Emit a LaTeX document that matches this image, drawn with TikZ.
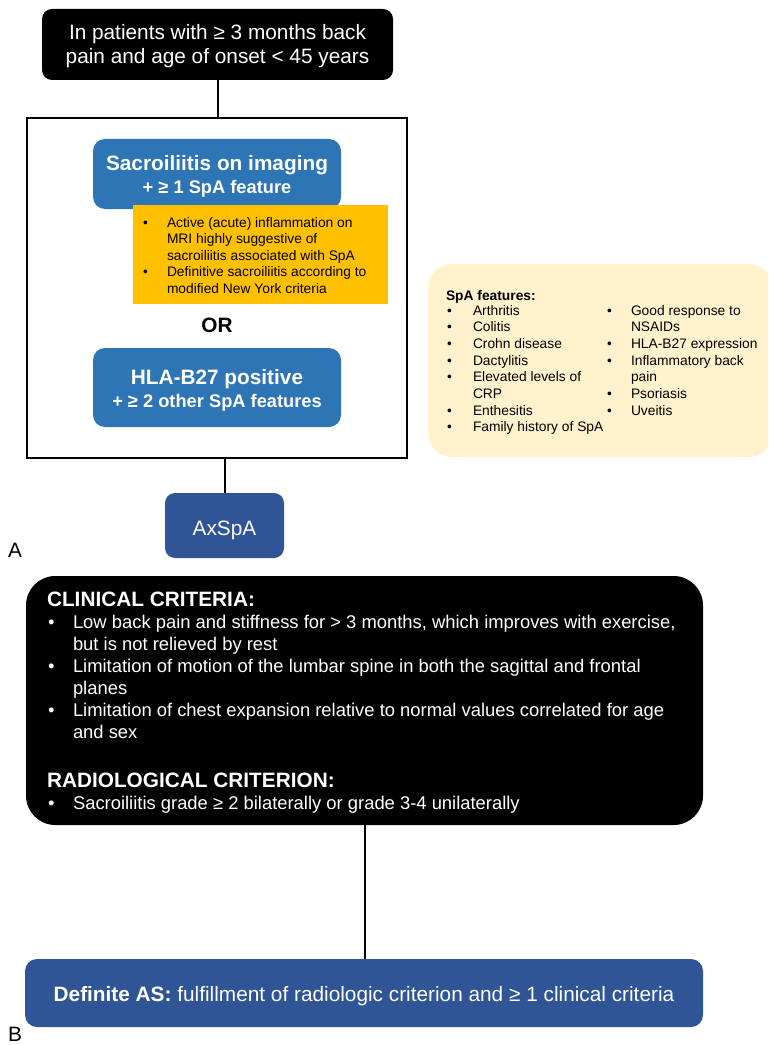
\documentclass[tikz,border=0pt]{standalone}
\usepackage{fontspec}
\setmainfont{Liberation Sans}
\usetikzlibrary{fit}
\definecolor{midblue}{HTML}{2E75B6}
\definecolor{darkblue}{HTML}{2F5597}
\definecolor{amber}{HTML}{FFC000}
\definecolor{cream}{HTML}{FFF2CC}
\newcommand{\fbig}{\fontsize{15.6}{18}\selectfont}
\newcommand{\fmid}{\fontsize{13.8}{16}\selectfont}
\newcommand{\fsub}{\fontsize{13.7}{16}\selectfont}
\newcommand{\fsmall}{\fontsize{10.35}{12.5}\selectfont}
\begin{document}
\begin{tikzpicture}[x=0.75pt,y=-0.75pt,
  panel/.style={inner sep=0pt, outer sep=0pt},
  txt/.style={inner sep=0pt, outer sep=0pt, anchor=base west},
  ctxt/.style={inner sep=0pt, outer sep=0pt, anchor=base},
  wtxt/.style={txt, text=white},
  conn/.style={line width=1.5pt, black}]
\useasboundingbox (0,0) rectangle (768,1045);

% ---------- Panel A ----------
\node[panel, fit={(42,9)(393,80)}, fill=black, rounded corners=7.5pt] (top) {};
\node[ctxt, text=white, font=\fbig] (top1) at (217.5,40) {In patients with ≥ 3 months back};
\node[ctxt, text=white, font=\fbig] (top2) at (217.5,64) {pain and age of onset < 45 years};

\node[panel, fit={(27,118)(407,458)}, draw=black, line width=1.5pt] (outer) {};
\draw[conn] (top.south) -- (top.south |- outer.north);

\node[panel, fit={(93,139)(341,209)}, fill=midblue, rounded corners=9pt] (sacro) {};
\node[ctxt, text=white, font=\bfseries\fbig] (sacro1) at (217,171) {Sacroiliitis on imaging};
\node[ctxt, text=white, font=\bfseries\fsub] (sacro2) at (217,193) {+ ≥ 1 SpA feature};

\node[panel, fit={(133,205)(388,304)}, fill=amber] (mri) {};
\node[txt, font=\fsmall] (mb1) at (143,227) {•};
\node[txt, font=\fsmall] (m1) at (167,227) {Active (acute) inflammation on};
\node[txt, font=\fsmall] (m2) at (167,243.5) {MRI highly suggestive of};
\node[txt, font=\fsmall] (m3) at (167,260) {sacroiliitis associated with SpA};
\node[txt, font=\fsmall] (mb2) at (143,276.5) {•};
\node[txt, font=\fsmall] (m4) at (167,276.5) {Definitive sacroiliitis according to};
\node[txt, font=\fsmall] (m5) at (167,293) {modified New York criteria};

\node[ctxt, font=\bfseries\fbig] (or) at (217,332) {OR};

\node[panel, fit={(93,348)(341,427)}, fill=midblue, rounded corners=9pt] (hla) {};
\node[ctxt, text=white, font=\bfseries\fbig] (hla1) at (217,384) {HLA-B27 positive};
\node[ctxt, text=white, font=\bfseries\fsub] (hla2) at (217,407) {+ ≥ 2 other SpA features};

\node[panel, fit={(165,493)(284,558)}, fill=darkblue, rounded corners=7.5pt] (axspa) {};
\node[ctxt, text=white, font=\fbig] (axspatxt) at (224.5,535) {AxSpA};
\draw[conn] (axspa.north |- outer.south) -- (axspa.north);

\node[txt, font=\fbig] (labA) at (8,557) {A};

% SpA features box
\begin{scope}
\clip (0,0) rectangle (768,1045);
\node[panel, fit={(428,264)(773,457)}, fill=cream, rounded corners=18pt] (feat) {};
\end{scope}
\node[txt, font=\bfseries\fsmall] (feathead) at (446,300) {SpA features:};
\node[txt, font=\fsmall] (fb1) at (447,315) {•};
\node[txt, font=\fsmall] (f1) at (473,315) {Arthritis};
\node[txt, font=\fsmall] (fb2) at (447,331.7) {•};
\node[txt, font=\fsmall] (f2) at (473,331.7) {Colitis};
\node[txt, font=\fsmall] (fb3) at (447,348.4) {•};
\node[txt, font=\fsmall] (f3) at (473,348.4) {Crohn disease};
\node[txt, font=\fsmall] (fb4) at (447,365.1) {•};
\node[txt, font=\fsmall] (f4) at (473,365.1) {Dactylitis};
\node[txt, font=\fsmall] (fb5) at (447,381.8) {•};
\node[txt, font=\fsmall] (f5) at (473,381.8) {Elevated levels of};
\node[txt, font=\fsmall] (f5b) at (473,398.5) {CRP};
\node[txt, font=\fsmall] (fb6) at (447,415.2) {•};
\node[txt, font=\fsmall] (f6) at (473,415.2) {Enthesitis};
\node[txt, font=\fsmall] (fb7) at (447,431.9) {•};
\node[txt, font=\fsmall] (f7) at (473,431.9) {Family history of SpA};
\node[txt, font=\fsmall] (gb1) at (607,315) {•};
\node[txt, font=\fsmall] (g1) at (631,315) {Good response to};
\node[txt, font=\fsmall] (g1b) at (631,331.7) {NSAIDs};
\node[txt, font=\fsmall] (gb2) at (607,348.4) {•};
\node[txt, font=\fsmall] (g2) at (631,348.4) {HLA-B27 expression};
\node[txt, font=\fsmall] (gb3) at (607,365.1) {•};
\node[txt, font=\fsmall] (g3) at (631,365.1) {Inflammatory back};
\node[txt, font=\fsmall] (g3b) at (631,381.8) {pain};
\node[txt, font=\fsmall] (gb4) at (607,398.5) {•};
\node[txt, font=\fsmall] (g4) at (631,398.5) {Psoriasis};
\node[txt, font=\fsmall] (gb5) at (607,415.2) {•};
\node[txt, font=\fsmall] (g5) at (631,415.2) {Uveitis};

% ---------- Panel B ----------
\node[panel, fit={(26,576)(703,825)}, fill=black, rounded corners=22pt] (clin) {};
\node[wtxt, font=\bfseries\fbig] (clinhead) at (47,606) {CLINICAL CRITERIA:};
\node[wtxt, font=\fmid] (cb1) at (48,628.5) {•};
\node[wtxt, font=\fmid] (c1) at (73,628.5) {Low back pain and stiffness for > 3 months, which improves with exercise,};
\node[wtxt, font=\fmid] (c1b) at (73,650.5) {but is not relieved by rest};
\node[wtxt, font=\fmid] (cb2) at (48,672.5) {•};
\node[wtxt, font=\fmid] (c2) at (73,672.5) {Limitation of motion of the lumbar spine in both the sagittal and frontal};
\node[wtxt, font=\fmid] (c2b) at (73,694.5) {planes};
\node[wtxt, font=\fmid] (cb3) at (48,716.5) {•};
\node[wtxt, font=\fmid] (c3) at (73,716.5) {Limitation of chest expansion relative to normal values correlated for age};
\node[wtxt, font=\fmid] (c3b) at (73,738.5) {and sex};
\node[wtxt, font=\bfseries\fbig] (radhead) at (47,787) {RADIOLOGICAL CRITERION:};
\node[wtxt, font=\fmid] (rb1) at (48,809) {•};
\node[wtxt, font=\fmid] (r1) at (73,809) {Sacroiliitis grade ≥ 2 bilaterally or grade 3-4 unilaterally};

\node[panel, fit={(25,959)(703,1027)}, fill=darkblue, rounded corners=9pt] (def) {};
\node[ctxt, text=white, font=\fbig] (deftxt) at (364,1001) {\textbf{Definite AS:} fulfillment of radiologic criterion and ≥ 1 clinical criteria};
\draw[conn] (clin.south) -- (clin.south |- def.north);

\node[txt, font=\fbig] (labB) at (8,1041) {B};
\end{tikzpicture}
\end{document}
